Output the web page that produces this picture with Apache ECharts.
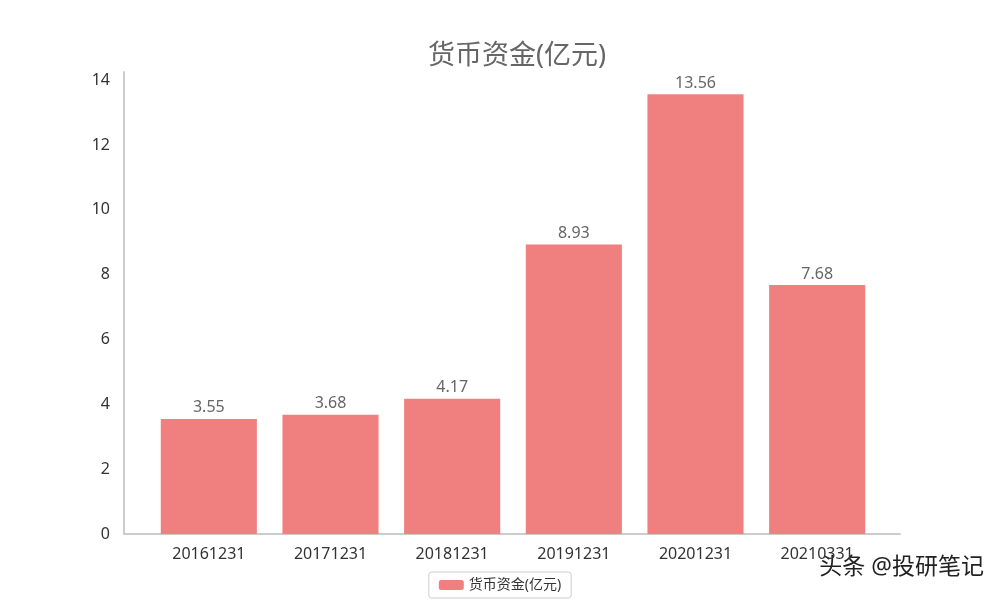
<!DOCTYPE html>
<html><head><meta charset="utf-8">
<script src="https://cdn.jsdelivr.net/npm/echarts@6/dist/echarts.min.js"></script>
<style>html,body{margin:0;padding:0;background:#fff}#c{width:1000px;height:600px}</style>
</head><body><div id="c"></div>
<script>
var categories = ['20161231','20171231','20181231','20191231','20201231','20210331'];
var values = [3.55, 3.68, 4.17, 8.93, 13.56, 7.68];
var seriesName = '货币资金(亿元)';
var FONT = '"Noto Sans", "Noto Sans CJK SC", sans-serif';
var chart = echarts.init(document.getElementById('c'));
chart.setOption({
  animation: false,
  textStyle: {fontFamily: FONT},
  title: {text: seriesName, left: 512, textAlign: 'center', top: 38,
    textStyle: {fontSize: 27, fontWeight: 'normal', color: '#666', fontFamily: FONT}},
  legend: {bottom: 2, left: 'center', data: [seriesName], borderColor: '#ccc', borderWidth: 1, borderRadius: 3,
    padding: [6, 10], itemWidth: 25, itemHeight: 10, textStyle: {fontSize: 14, color: '#333', fontFamily: FONT}},
  grid: [
    {left: 148, right: 122, top: 72, bottom: 66},
    {left: 124, right: 100, top: 72, bottom: 66}
  ],
  xAxis: [
    {type: 'category', data: categories, gridIndex: 0,
      axisLine: {show: false}, axisTick: {show: false},
      axisLabel: {fontSize: 16, color: '#333', margin: 12, fontFamily: FONT}},
    {type: 'value', gridIndex: 1, min: 0, max: 1, position: 'bottom',
      axisLine: {show: true, onZero: false, lineStyle: {color: '#ccc', width: 2}},
      axisTick: {show: false}, axisLabel: {show: false}, splitLine: {show: false}}
  ],
  yAxis: [
    {type: 'value', gridIndex: 0, min: 0, max: 14.25, interval: 2, show: false, splitLine: {show: false}},
    {type: 'value', gridIndex: 1, min: 0, max: 14.25, interval: 2,
      axisLine: {show: true, lineStyle: {color: '#ccc', width: 2}}, axisTick: {show: false},
      splitLine: {show: false},
      axisLabel: {fontSize: 16, color: '#333', margin: 14, showMaxLabel: false, fontFamily: FONT}}
  ],
  series: [{name: seriesName, type: 'bar', data: values, xAxisIndex: 0, yAxisIndex: 0, barCategoryGap: '21%',
    itemStyle: {color: '#F08080'},
    label: {show: true, position: 'top', fontSize: 16, color: '#666', distance: 3, fontFamily: FONT}}],
  graphic: [{type: 'text', right: 16, top: 556, style: {text: '头条 @投研笔记', fontSize: 23,
    fill: '#222', fontFamily: FONT, textShadowColor: '#fff', textShadowBlur: 2}}]
});
</script></body></html>
